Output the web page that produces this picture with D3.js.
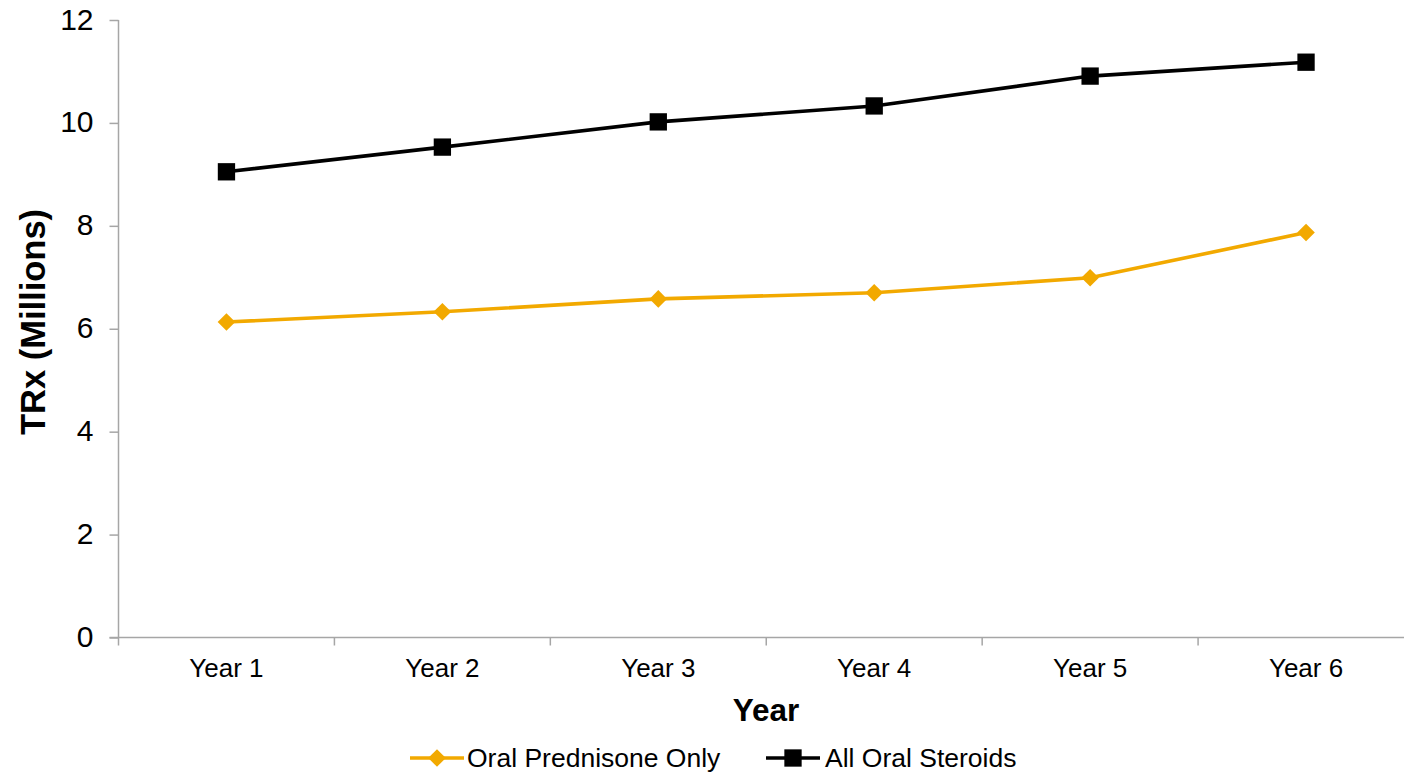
<!DOCTYPE html>
<html>
<head>
<meta charset="utf-8">
<script src="https://cdn.jsdelivr.net/npm/d3@7"></script>
<style>
  html, body { margin: 0; padding: 0; background: #fff; }
  svg { display: block; font-family: "Liberation Sans", Arial, sans-serif; }
</style>
</head>
<body>
<svg id="chart" width="1404" height="772"></svg>
<script>
// Categories and series (TRx in millions)
const years = ["Year 1", "Year 2", "Year 3", "Year 4", "Year 5", "Year 6"];
const prednisoneOnly = [6.13, 6.33, 6.58, 6.70, 6.99, 7.87];
const allOralSteroids = [9.05, 9.53, 10.02, 10.33, 10.91, 11.18];
const yTicks = [0, 2, 4, 6, 8, 10, 12];

const seriesList = [
  { name: "Oral Prednisone Only", values: prednisoneOnly, color: "#F2A900", marker: "diamond" },
  { name: "All Oral Steroids", values: allOralSteroids, color: "#000000", marker: "square" }
];

const svg = d3.select("#chart");
const plotLeft = 118.5, plotRight = 1414, plotTop = 20, plotBottom = 637.5;
const axisColor = "#a6a6a6";

const x = d3.scaleBand().domain(years).range([plotLeft, plotRight]);
const y = d3.scaleLinear().domain([0, 12]).range([plotBottom, plotTop]);

// Y axis
const yAxis = svg.append("g").attr("transform", `translate(${plotLeft},0)`)
  .call(d3.axisLeft(y).tickValues(yTicks).tickSize(9).tickPadding(16).tickFormat(d3.format("d")));
yAxis.select(".domain").attr("stroke", axisColor).attr("stroke-width", 1.5)
  .attr("d", `M0,${plotTop}V${plotBottom + 8}`);
yAxis.selectAll(".tick line").attr("stroke", axisColor).attr("stroke-width", 1.5);
yAxis.selectAll(".tick text").attr("font-size", 30).attr("fill", "#000")
  .attr("font-family", "Liberation Sans, Arial, sans-serif").attr("dy", "0.3em");

// X axis with ticks at category boundaries
const xAxis = svg.append("g").attr("transform", `translate(0,${plotBottom})`);
xAxis.append("line").attr("x1", plotLeft - 9).attr("x2", 1404).attr("y1", 0).attr("y2", 0)
  .attr("stroke", axisColor).attr("stroke-width", 1.5);
const boundaries = years.map(d => x(d)).concat([x(years[years.length - 1]) + x.bandwidth()]);
xAxis.selectAll("line.b").data(boundaries.slice(1)).join("line").attr("class", "b")
  .attr("x1", d => d).attr("x2", d => d).attr("y1", 0).attr("y2", 8)
  .attr("stroke", axisColor).attr("stroke-width", 1.5);
xAxis.selectAll("text").data(years).join("text")
  .attr("x", d => x(d) + x.bandwidth() / 2).attr("y", 39)
  .attr("text-anchor", "middle").attr("font-size", 26).attr("fill", "#000")
  .text(d => d);

// Axis titles
svg.append("text").attr("x", 766).attr("y", 721).attr("text-anchor", "middle")
  .attr("font-size", 31.5).attr("font-weight", "bold").text("Year");
svg.append("text").attr("transform", "translate(45,322) rotate(-90)").attr("text-anchor", "middle")
  .attr("font-size", 34.5).attr("font-weight", "bold").text("TRx (Millions)");

// Lines and markers
const cx = d => x(d) + x.bandwidth() / 2;
const line = d3.line().x((v, i) => cx(years[i])).y(v => y(v));
const squareSym = d3.symbol().type(d3.symbolSquare).size(300);
const diamondSym = d3.symbol().type(d3.symbolSquare).size(155);
const markerPath = m => (m === "square" ? squareSym : diamondSym)();
const markerRot = m => (m === "diamond" ? " rotate(45)" : "");

seriesList.forEach(s => {
  const g = svg.append("g");
  g.append("path").attr("d", line(s.values)).attr("fill", "none")
    .attr("stroke", s.color).attr("stroke-width", 3.6);
  g.selectAll("path.m").data(s.values).join("path").attr("class", "m")
    .attr("transform", (v, i) => `translate(${cx(years[i])},${y(v)})${markerRot(s.marker)}`)
    .attr("d", markerPath(s.marker))
    .attr("fill", s.color);
});

// Legend
const legendItems = [
  { s: seriesList[0], x0: 410, tx: 467 },
  { s: seriesList[1], x0: 766, tx: 825 }
];
const ly = 758;
legendItems.forEach(it => {
  const g = svg.append("g");
  g.append("line").attr("x1", it.x0).attr("x2", it.x0 + 54).attr("y1", ly).attr("y2", ly)
    .attr("stroke", it.s.color).attr("stroke-width", 3.6);
  g.append("path")
    .attr("transform", `translate(${it.x0 + 27},${ly})${markerRot(it.s.marker)}`)
    .attr("d", markerPath(it.s.marker))
    .attr("fill", it.s.color);
  g.append("text").attr("x", it.tx).attr("y", ly + 9).attr("font-size", 26.5).attr("fill", "#000")
    .text(it.s.name);
});
</script>
</body>
</html>
